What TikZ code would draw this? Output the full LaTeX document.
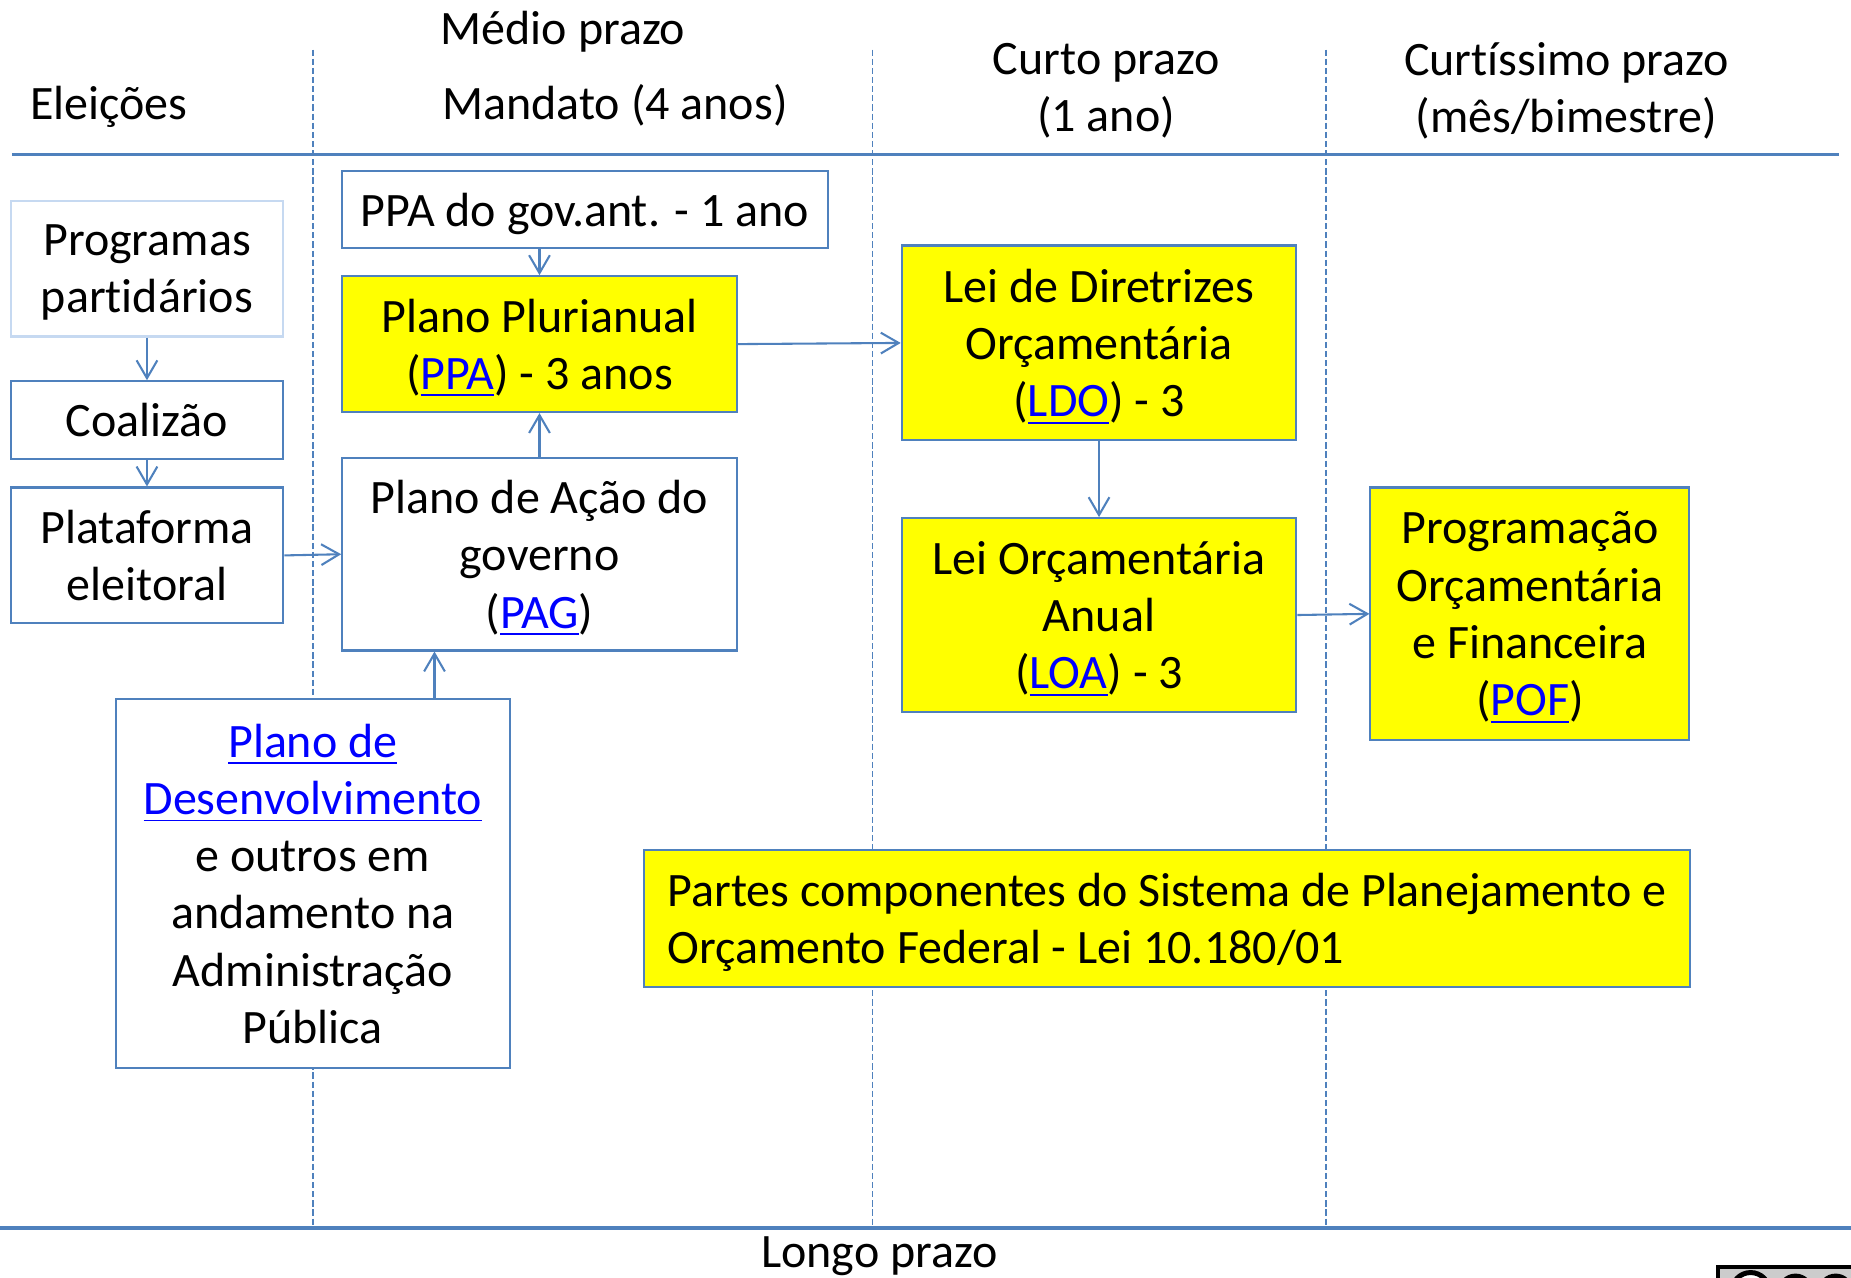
\documentclass[tikz,border=0pt]{standalone}
\usepackage{fontspec}
\setmainfont{Carlito}[Ligatures=NoCommon]
\usetikzlibrary{arrows.meta}
\definecolor{linha}{HTML}{4F81BD}
\definecolor{linhaclara}{HTML}{C6D9F1}
\definecolor{amarelo}{HTML}{FFFF00}
\definecolor{azullink}{HTML}{0000FF}
\newcommand{\lnk}[1]{\textcolor{azullink}{\underline{#1}}}

\begin{document}
\begin{tikzpicture}[x=0.01cm,y=-0.01cm,font=\fontsize{11.56}{13.8}\selectfont,
        texto/.style={align=center,inner sep=0pt,text depth=0pt},
        caixa/.style={texto,draw=linha,line width=0.5pt,fill=white},
        caixaam/.style={caixa,fill=amarelo},
        seta/.style={draw=linha,line width=0.5pt,-{Straight Barb[length=4.3pt,width=5pt]}},
        divisa/.style={draw=linha,line width=0.4pt,dash pattern=on 1.5pt off 0.7pt}]
    \useasboundingbox (0,0) rectangle (1568,1082);
    % divisoes de prazo
    \draw [divisa] (265,42) -- (265,1040);
    \draw [divisa] (739,42) -- (739,1040);
    \draw [divisa] (1123,42) -- (1123,1040);
    \draw [linha,line width=0.8pt] (10,131) -- (1558,131);
    \draw [linha,line width=0.9pt] (0,1040) -- (1568,1040);
    % cabecalhos
    \node[anchor=base] (eleicoes) at (92,101) {Eleições};
    \node[anchor=base] (medio) at (477,38) {Médio prazo};
    \node[anchor=base] (mandato) at (521,101) {Mandato (4 anos)};
    \node[texto] (curto) at (937,74) {Curto prazo\\(1 ano)};
    \node[texto] (curtissimo) at (1327,74) {Curtíssimo prazo\\(mês/bimestre)};
    \node[anchor=base] (longo) at (745,1074) {Longo prazo};
    % caixas
    \node[caixa,draw=linhaclara,minimum width=2.31cm,minimum height=1.15cm] (prog) at (124.5,227.5) {Programas\\partidários};
    \node[caixa,minimum width=2.31cm,minimum height=0.66cm] (coal) at (124.5,356) {Coalizão};
    \node[caixa,minimum width=2.31cm,minimum height=1.15cm] (plat) at (124.5,470.5) {Plataforma\\eleitoral};
    \node[caixa,minimum width=4.11cm,minimum height=0.65cm] (ppaant) at (495.5,177.5) {PPA do gov.ant. - 1 ano};
    \node[caixaam,minimum width=3.34cm,minimum height=1.15cm] (ppa) at (457,291.5) {Plano Plurianual\\(\lnk{PPA}) - 3 anos};
    \node[caixa,minimum width=3.34cm,minimum height=1.63cm] (pag) at (457,469.5) {Plano de Ação do\\governo\\(\lnk{PAG})};
    \node[caixa,minimum width=3.34cm,minimum height=3.13cm] (pd) at (265,748.5) {\lnk{Plano de}\\\lnk{Desenvolvimento}\\e outros em\\andamento na\\Administração\\Pública};
    \node[caixaam,minimum width=3.34cm,minimum height=1.65cm] (ldo) at (931,290.5) {Lei de Diretrizes\\Orçamentária\\(\lnk{LDO}) - 3};
    \node[caixaam,minimum width=3.34cm,minimum height=1.64cm] (loa) at (931,521) {Lei Orçamentária\\Anual\\(\lnk{LOA}) - 3};
    \node[caixaam,minimum width=2.70cm,minimum height=2.14cm] (pof) at (1296,520) {Programação\\Orçamentária\\e Financeira\\(\lnk{POF})};
    \node[caixaam,align=left,minimum width=8.85cm,minimum height=1.16cm] (partes) at (988.5,778) {Partes componentes do Sistema de Planejamento e\\Orçamento Federal - Lei 10.180/01};
    % setas
    \draw [seta] (prog.south) -- (coal.north);
    \draw [seta] (coal.south) -- (plat.north);
    \draw [seta] (plat.east) -- (pag.west);
    \draw [seta] (ppaant.south -| ppa.north) -- (ppa.north);
    \draw [seta] (pag.north) -- (ppa.south);
    \draw [seta] ([xshift=1.03cm]pd.north) -- ([xshift=1.03cm]pd.north |- pag.south);
    \draw [seta] (ppa.east) -- (ldo.west);
    \draw [seta] (ldo.south) -- (loa.north);
    \draw [seta] (loa.east) -- (pof.west);
    % selo no canto
    \begin{scope}
        \clip (0,0) rectangle (1568,1082);
        \draw [line width=1pt,fill=gray!40] (1455,1073) rectangle (1600,1120);
        \draw [line width=1.2pt,fill=white] (1483,1094) circle (0.16cm);
        \draw [line width=1.2pt,fill=white] (1521,1094) circle (0.13cm);
        \draw [line width=1.2pt,fill=white] (1555,1094) circle (0.13cm);
    \end{scope}
\end{tikzpicture}
\end{document}
